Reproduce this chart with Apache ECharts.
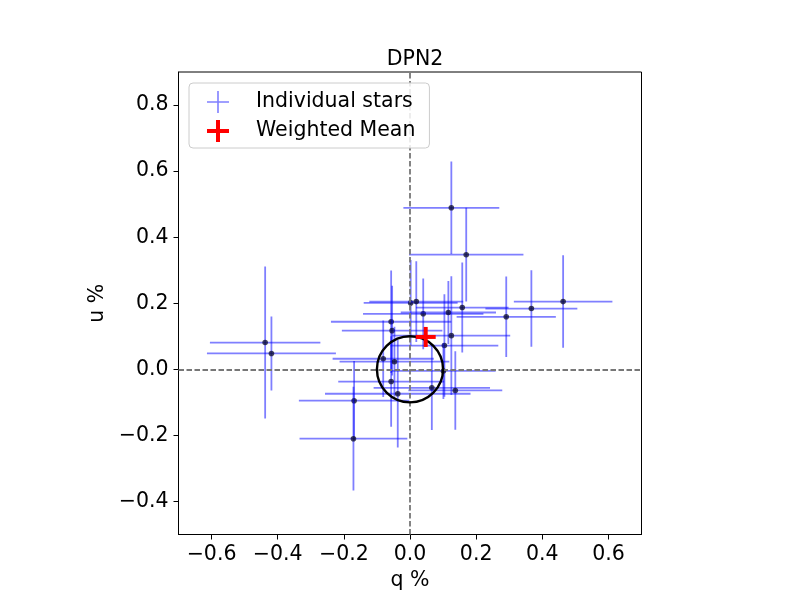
<!DOCTYPE html>
<html>
<head>
<meta charset="utf-8">
<script src="https://cdn.jsdelivr.net/npm/echarts@6/dist/echarts.min.js"></script>
<style>
  html, body { margin: 0; padding: 0; background: #fff; }
  #chart { width: 800px; height: 600px; }
</style>
</head>
<body>
<div id="chart"></div>
<script>
// ---- data ----
const qVals = [-0.438, -0.419, -0.169, -0.171, 0.002, 0.019, 0.040, 0.116, 0.158, -0.057, -0.054, 0.125, 0.104, -0.081, -0.047, 0.101, -0.057, 0.066, 0.137, -0.037, 0.125, 0.170, 0.463, 0.367, 0.291];
const uVals = [0.081, 0.048, -0.095, -0.210, 0.201, 0.205, 0.168, 0.172, 0.187, 0.144, 0.117, 0.102, 0.072, 0.032, 0.023, -0.005, -0.037, -0.056, -0.064, -0.074, 0.489, 0.347, 0.205, 0.184, 0.159];
const qErr  = [0.167, 0.195, 0.167, 0.163, 0.142, 0.142, 0.182, 0.144, 0.140, 0.182, 0.152, 0.178, 0.163, 0.153, 0.166, 0.158, 0.160, 0.176, 0.142, 0.220, 0.145, 0.173, 0.149, 0.139, 0.150];
const uErr  = [0.230, 0.112, 0.120, 0.157, 0.130, 0.122, 0.107, 0.095, 0.136, 0.155, 0.136, 0.180, 0.155, 0.116, 0.106, 0.085, 0.137, 0.128, 0.119, 0.163, 0.140, 0.142, 0.140, 0.116, 0.122];
const meanQ = [0.0475];
const meanU = [0.098];
const circleRadius = [0.1];
const xTicks = [-0.6, -0.4, -0.2, 0.0, 0.2, 0.4, 0.6];
const yTicks = [-0.4, -0.2, 0.0, 0.2, 0.4, 0.6, 0.8];
const xRange = [-0.7, 0.7];
const yRange = [-0.5, 0.9];
const titleText = 'DPN2';
const xName = 'q %';
const yName = 'u %';
const starsName = 'Individual stars';
const meanName = 'Weighted Mean';

// ---- build ----
const starData = qVals.map((q, i) => [q, uVals[i], qErr[i], uErr[i]]);
const meanData = meanQ.map((q, i) => [q, meanU[i]]);
const circleData = [[0, 0, circleRadius[0]]];

const fmt = v => (Math.abs(v) < 1e-9 ? '0.0' : v.toFixed(1).replace('-', '\u2212'));
const FONT = 'DejaVu Sans';
const FS = 20.5;

const chart = echarts.init(document.getElementById('chart'), null, { renderer: 'canvas' });

const axisCommon = {
  axisLine: { show: true, onZero: false, lineStyle: { color: '#000', width: 1 } },
  axisTick: { show: true, inside: false, length: 5, lineStyle: { color: '#000', width: 1 } },
  splitLine: { show: false },
  nameTextStyle: { color: '#000', fontSize: FS, fontFamily: FONT },
};

chart.setOption({
  animation: false,
  backgroundColor: '#fff',
  title: {
    text: titleText,
    left: 410, top: 44, textAlign: 'center',
    textStyle: { fontSize: FS, fontWeight: 'normal', color: '#000', fontFamily: FONT }
  },
  grid: {
    left: 178.5, right: 158.5, top: 72, bottom: 65.5,
    containLabel: false, outerBoundsMode: 'none',
    show: true, borderColor: '#000', borderWidth: 1, backgroundColor: 'transparent'
  },
  legend: {
    orient: 'vertical',
    left: 189, top: 83,
    z: 20,
    padding: [8, 14, 6, 18],
    itemGap: 7,
    itemWidth: 22, itemHeight: 22,
    backgroundColor: 'rgba(255,255,255,0.85)',
    borderColor: '#cccccc', borderWidth: 1, borderRadius: 4,
    textStyle: { fontSize: FS, lineHeight: 22, color: '#000', fontFamily: FONT, padding: [0, 0, 0, 22] },
    data: [
      { name: starsName, icon: 'path://M0,10.2H22V11.8H0Z M10.2,0H11.8V22H10.2Z', itemStyle: { color: 'rgba(0,0,255,0.5)' } },
      { name: meanName, icon: 'path://M0,9H22V13H0Z M9,0H13V22H9Z', itemStyle: { color: '#ff0000' } }
    ]
  },
  xAxis: Object.assign({}, axisCommon, {
    type: 'value', min: xRange[0], max: xRange[1],
    name: xName, nameLocation: 'middle', nameGap: 33,
    axisTick: Object.assign({}, axisCommon.axisTick, { customValues: xTicks }),
    axisLabel: { customValues: xTicks, formatter: fmt, color: '#000', fontSize: FS, fontFamily: FONT, margin: 10 }
  }),
  yAxis: Object.assign({}, axisCommon, {
    type: 'value', min: yRange[0], max: yRange[1],
    name: yName, nameLocation: 'middle', nameGap: 66, nameRotate: 90,
    axisTick: Object.assign({}, axisCommon.axisTick, { customValues: yTicks }),
    axisLabel: { customValues: yTicks, formatter: fmt, color: '#000', fontSize: FS, fontFamily: FONT, margin: 10 }
  }),
  series: [
    {
      name: starsName,
      type: 'custom',
      data: starData,
      encode: { x: 0, y: 1 },
      clip: true,
      z: 2,
      itemStyle: { color: 'rgba(0,0,255,0.5)' },
      renderItem: function (params, api) {
        const q = api.value(0), u = api.value(1), qe = api.value(2), ue = api.value(3);
        const c = api.coord([q, u]);
        const l = api.coord([q - qe, u]);
        const r = api.coord([q + qe, u]);
        const t = api.coord([q, u + ue]);
        const b = api.coord([q, u - ue]);
        const ls = { stroke: 'rgba(0,0,255,0.5)', lineWidth: 1.8 };
        return {
          type: 'group',
          children: [
            { type: 'line', shape: { x1: l[0], y1: l[1], x2: r[0], y2: r[1] }, style: ls },
            { type: 'line', shape: { x1: t[0], y1: t[1], x2: b[0], y2: b[1] }, style: ls },
            { type: 'circle', shape: { cx: c[0], cy: c[1], r: 2.8 }, style: { fill: 'rgba(10,10,40,0.75)' } }
          ]
        };
      }
    },
    {
      name: 'zero lines',
      type: 'custom',
      data: circleData,
      encode: { x: 0, y: 1 },
      z: 3,
      renderItem: function () { return { type: 'group', children: [] }; },
      markLine: {
        silent: true,
        z: 3,
        symbol: ['none', 'none'],
        label: { show: false },
        lineStyle: { color: '#777777', width: 1.8, type: [5.5, 2.5] },
        data: [{ xAxis: 0 }, { yAxis: 0 }]
      }
    },
    {
      name: 'circle',
      type: 'custom',
      data: circleData,
      encode: { x: 0, y: 1 },
      z: 4,
      renderItem: function (params, api) {
        const c = api.coord([api.value(0), api.value(1)]);
        const s = api.size([api.value(2), api.value(2)]);
        return {
          type: 'circle',
          shape: { cx: c[0], cy: c[1], r: s[0] },
          style: { fill: 'none', stroke: '#000', lineWidth: 2.4 }
        };
      }
    },
    {
      name: meanName,
      type: 'custom',
      data: meanData,
      encode: { x: 0, y: 1 },
      z: 5,
      itemStyle: { color: '#ff0000' },
      renderItem: function (params, api) {
        const c = api.coord([api.value(0), api.value(1)]);
        const h = 10;
        const ls = { stroke: '#ff0000', lineWidth: 4 };
        return {
          type: 'group',
          children: [
            { type: 'line', shape: { x1: c[0] - h, y1: c[1], x2: c[0] + h, y2: c[1] }, style: ls },
            { type: 'line', shape: { x1: c[0], y1: c[1] - h, x2: c[0], y2: c[1] + h }, style: ls }
          ]
        };
      }
    }
  ]
});
</script>
</body>
</html>
